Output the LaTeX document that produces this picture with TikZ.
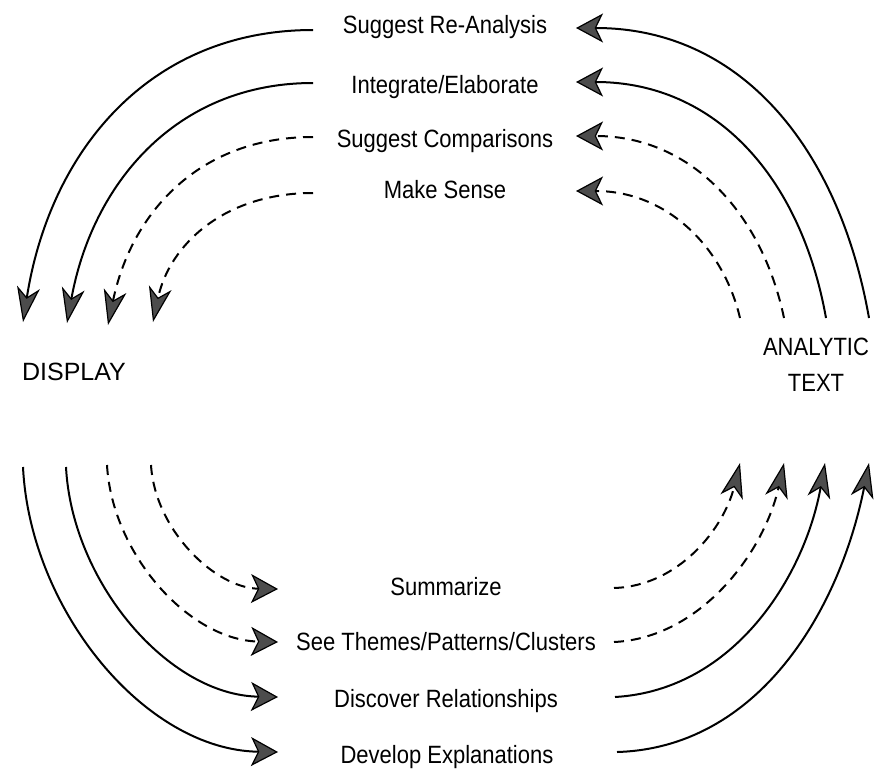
\documentclass[tikz,border=0pt]{standalone}
\usepackage{fontspec}
\setmainfont{Liberation Sans}[FakeStretch=0.88]
\newfontfamily\widefont{Liberation Sans}
\usetikzlibrary{arrows.meta}
\begin{document}
\begin{tikzpicture}[x=1pt,y=-1pt,
  lbl/.style={inner sep=0pt, anchor=base, font=\fontsize{25}{36}\selectfont},
  flow/.style={line width=2pt},
  dashflow/.style={flow, dash pattern=on 10pt off 7pt},
  headH/.style={-{Stealth[length=27pt,width=29pt,inset=7pt,line width=1.2pt,fill=black!70]}},
  headV/.style={-{Stealth[length=35pt,width=23pt,inset=10pt,line width=1.2pt,fill=black!70]}},
]
\useasboundingbox (0,0) rectangle (877,776);

% main blocks
\node[lbl, font=\widefont\fontsize{25}{36}\selectfont] (disp) at (74,380) {DISPLAY};
\node[lbl, anchor=center, align=center] (atext) at (816,365) {ANALYTIC\\TEXT};

% actions from analytic text back to display
\node[lbl] (sra) at (445,34)  {Suggest Re-Analysis};
\node[lbl] (ie)  at (445,93)  {Integrate/Elaborate};
\node[lbl] (sc)  at (445,147) {Suggest Comparisons};
\node[lbl] (ms)  at (445,198) {Make Sense};

% actions from display to analytic text
\node[lbl] (sum) at (446,595) {Summarize};
\node[lbl] (stp) at (446,650) {See Themes/Patterns/Clusters};
\node[lbl] (dr)  at (446,707) {Discover Relationships};
\node[lbl] (de)  at (447,763) {Develop Explanations};

% connector end points
\coordinate (trA) at (869,318); \coordinate (sraR) at (576,28);
\coordinate (trB) at (826,318); \coordinate (ieR)  at (576,82);
\coordinate (trC) at (784,318); \coordinate (scR)  at (576,136);
\coordinate (trD) at (740,318); \coordinate (msR)  at (576,191);

\coordinate (sraL) at (313,30);  \coordinate (tlA) at (23,322);
\coordinate (ieL)  at (313,83);  \coordinate (tlB) at (67,323);
\coordinate (scL)  at (313,137); \coordinate (tlC) at (108,325);
\coordinate (msL)  at (313,193); \coordinate (tlD) at (153,322);

\coordinate (blA) at (23,467);  \coordinate (deL)  at (278,752);
\coordinate (blB) at (66,467);  \coordinate (drL)  at (278,697);
\coordinate (blC) at (107,465); \coordinate (stpL) at (278,642);
\coordinate (blD) at (151,465); \coordinate (sumL) at (278,589);

\coordinate (sumR) at (614,588); \coordinate (brA) at (740,463);
\coordinate (stpR) at (614,642); \coordinate (brB) at (784,463);
\coordinate (drR)  at (615,697); \coordinate (brC) at (825,463);
\coordinate (deR)  at (617,752); \coordinate (brD) at (869,463);

% upper right: analytic text -> labels
\draw[flow, headH]     (trA) .. controls (839,148) and (741,28)  .. (sraR);
\draw[flow, headH]     (trB) .. controls (801,178) and (716,82)  .. (ieR);
\draw[dashflow, headH] (trC) .. controls (762,213) and (691,136) .. (scR);
\draw[dashflow, headH] (trD) .. controls (723,246) and (666,191) .. (msR);

% upper left: labels -> display
\draw[flow, headV]     (sraL) .. controls (150,30)  and (50,150)  .. (tlA);
\draw[flow, headV]     (ieL)  .. controls (175,83)  and (92,185)  .. (tlB);
\draw[dashflow, headV] (scL)  .. controls (198,137) and (131,214) .. (tlC);
\draw[dashflow, headV] (msL)  .. controls (223,193) and (169,246) .. (tlD);

% lower left: display -> labels
\draw[flow, headH]     (blA) .. controls (30,610)  and (145,750) .. (deL);
\draw[flow, headH]     (blB) .. controls (72,582)  and (168,695) .. (drL);
\draw[dashflow, headH] (blC) .. controls (112,554) and (189,640) .. (stpL);
\draw[dashflow, headH] (blD) .. controls (155,530) and (215,588) .. (sumL);

% lower right: labels -> analytic text
\draw[dashflow, headV] (sumR) .. controls (679,586) and (724,528) .. (brA);
\draw[dashflow, headV] (stpR) .. controls (700,638) and (764,553) .. (brB);
\draw[flow, headV]     (drR)  .. controls (735,690) and (805,575) .. (brC);
\draw[flow, headV]     (deR)  .. controls (757,748) and (839,613) .. (brD);
\end{tikzpicture}
\end{document}
